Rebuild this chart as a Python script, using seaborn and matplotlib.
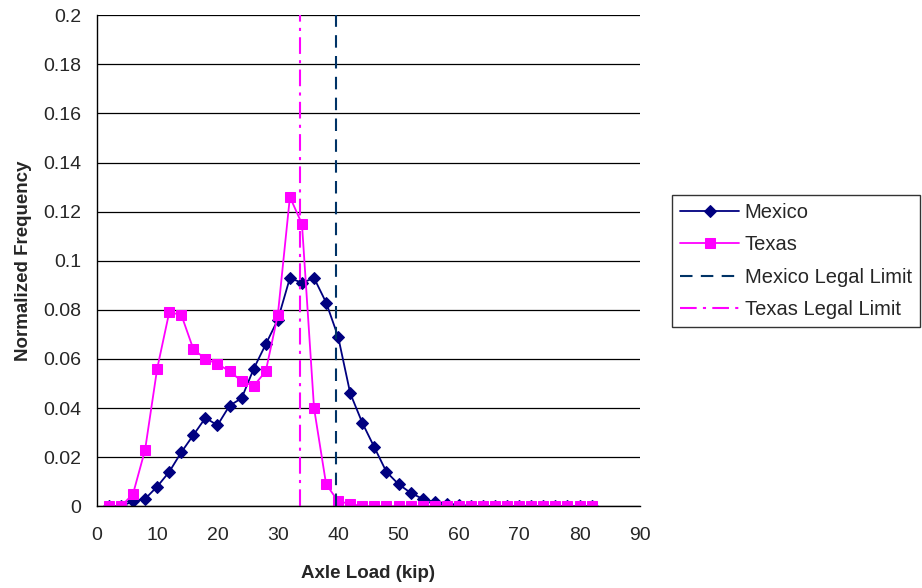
import matplotlib
matplotlib.use("Agg")
import matplotlib.pyplot as plt
import seaborn as sns
import numpy as np

# axle load bins (kip)
axle_load = list(range(2, 84, 2))

mexico = [0.0, 0.0, 0.002, 0.003, 0.008, 0.014, 0.022, 0.029, 0.036, 0.033,
          0.041, 0.044, 0.056, 0.066, 0.076, 0.093, 0.091, 0.093, 0.083, 0.069,
          0.046, 0.034, 0.024, 0.014, 0.009, 0.0055, 0.003, 0.0018, 0.0011, 0.0005,
          0.0, 0.0, 0.0, 0.0, 0.0, 0.0, 0.0, 0.0, 0.0, 0.0, 0.0]

texas = [0.0, 0.0, 0.005, 0.023, 0.056, 0.079, 0.078, 0.064, 0.060, 0.058,
         0.055, 0.051, 0.049, 0.055, 0.078, 0.126, 0.115, 0.040, 0.009, 0.002,
         0.001, 0.0, 0.0, 0.0, 0.0, 0.0, 0.0, 0.0, 0.0, 0.0,
         0.0, 0.0, 0.0, 0.0, 0.0, 0.0, 0.0, 0.0, 0.0, 0.0, 0.0]

mexico_limit = 39.7
texas_limit = 33.6

sns.set_style("white")
plt.rcParams['font.family'] = ['Liberation Sans', 'DejaVu Sans']

fig, ax = plt.subplots(figsize=(9.22, 5.88), dpi=100)
fig.subplots_adjust(left=0.105, right=0.694, top=0.974, bottom=0.139)

sns.lineplot(x=axle_load, y=mexico, ax=ax, color="#000080", marker="D",
             markersize=6, markeredgecolor="#000080", linewidth=1.3, label="Mexico")
sns.lineplot(x=axle_load, y=texas, ax=ax, color="#FF00FF", marker="s",
             markersize=6.5, markeredgecolor="#FF00FF", linewidth=1.3, label="Texas")
ax.axvline(mexico_limit, color="#003366", linestyle=(0, (6, 4)), linewidth=1.5,
           label="Mexico Legal Limit")
ax.axvline(texas_limit, color="#FF00FF", linestyle=(0, (8, 3, 1.5, 3)), linewidth=1.5,
           label="Texas Legal Limit")

ax.set_xlim(0, 90)
ax.set_ylim(0, 0.2)
ax.set_xticks(np.arange(0, 91, 10))
ax.set_yticks(np.arange(0, 0.201, 0.02))
ax.set_yticklabels(["0", "0.02", "0.04", "0.06", "0.08", "0.1", "0.12",
                    "0.14", "0.16", "0.18", "0.2"])
ax.yaxis.grid(True, color="black", linewidth=0.9)
ax.xaxis.grid(False)
ax.set_axisbelow(True)
for s in ["top", "right"]:
    ax.spines[s].set_visible(False)
for s in ["left", "bottom"]:
    ax.spines[s].set_color("black")
    ax.spines[s].set_linewidth(1.0)
ax.tick_params(axis="both", direction="out", length=6, width=1, color="black",
               labelsize=14)
ax.tick_params(axis="y", pad=5)
ax.tick_params(axis="x", pad=9)

ax.set_xlabel("Axle Load (kip)", fontsize=13.5, fontweight="bold", labelpad=15)
ax.set_ylabel("Normalized Frequency", fontsize=13.5, fontweight="bold", labelpad=8)

if ax.legend_:
    ax.legend_.remove()
handles, labels = ax.get_legend_handles_labels()
leg = fig.legend(handles, labels, loc="upper right",
                 bbox_to_anchor=(920 / 922, 1 - 195 / 588), fontsize=14.5,
                 frameon=True, fancybox=False, handlelength=2.9,
                 borderpad=0.4, labelspacing=0.66, handletextpad=0.3,
                 borderaxespad=0)
leg.get_frame().set_edgecolor("black")
leg.get_frame().set_linewidth(1.0)

fig.savefig("out.png", dpi=100)
